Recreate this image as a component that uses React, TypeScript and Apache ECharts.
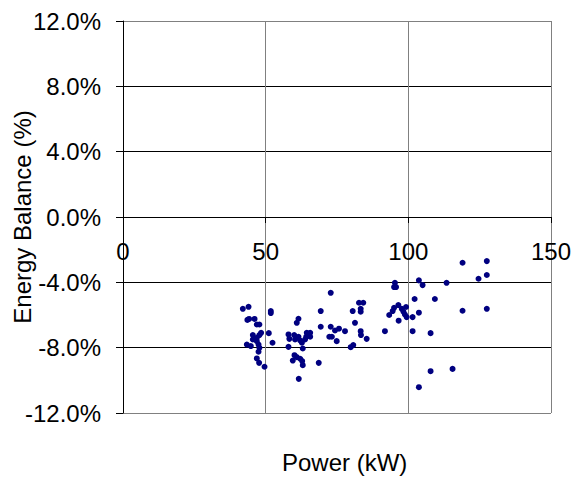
import React, { useEffect, useRef } from "react";
import * as echarts from "echarts";

const powerKW: number[] = [
  42.0, 44.0, 43.6, 44.2, 46.1, 46.9, 47.8, 51.8, 51.8, 45.5,
  45.5, 47.8, 48.4, 51.1, 43.4, 44.8, 46.9, 47.5, 47.8, 47.5,
  52.4, 46.9, 47.7, 49.6, 46.9, 61.5, 60.9, 58.0, 58.3, 60.0,
  60.3, 61.5, 62.1, 62.7, 63.8, 64.4, 65.6, 65.6, 64.2, 58.0,
  63.0, 60.1, 60.9, 62.1, 59.5, 63.0, 62.8, 61.6, 68.6, 69.3,
  69.3, 72.8, 72.8, 72.3, 73.2, 74.9, 74.3, 75.7, 77.8, 79.8,
  80.7, 80.5, 81.3, 82.7, 84.2, 83.3, 83.3, 83.3, 83.4, 85.4,
  91.8, 93.3, 95.3, 95.7, 95.0, 103.7, 105.0, 113.4, 119.0, 127.5,
  124.6, 127.5, 102.2, 109.3, 119.0, 127.5, 96.5, 95.0, 94.5, 97.7,
  98.3, 99.2, 99.4, 98.8, 101.5, 103.7, 96.6, 101.5, 107.8, 107.8,
  115.5, 103.7,
];

const energyBalance: number[] = [
  -5.62, -5.5, -6.3, -6.24, -6.24, -6.58, -6.58, -5.76, -5.88, -7.23,
  -7.5, -7.23, -7.09, -7.11, -7.81, -7.9, -7.6, -7.81, -8.01, -8.25,
  -7.7, -8.66, -8.93, -9.17, -7.4, -6.23, -6.48, -7.19, -7.46, -7.23,
  -7.5, -7.33, -7.56, -7.7, -7.5, -7.09, -7.09, -7.33, -7.33, -7.95,
  -8.05, -8.46, -8.58, -8.68, -8.79, -9.07, -8.82, -9.91, -8.93, -5.76,
  -6.72, -4.64, -6.72, -7.33, -7.33, -7.6, -6.95, -6.84, -6.99, -7.97,
  -7.84, -5.76, -6.48, -5.25, -5.25, -5.62, -5.8, -6.99, -7.23, -7.46,
  -6.99, -6.0, -4.03, -4.29, -4.29, -3.88, -4.17, -4.03, -2.8, -2.7,
  -3.78, -3.55, -5.02, -5.02, -5.74, -5.62, -5.39, -5.56, -5.76, -5.62,
  -5.8, -5.51, -6.13, -5.97, -6.13, -5.86, -6.35, -6.99, -7.11, -9.44,
  -9.3, -10.42,
];

const xMin = 0;
const xMax = 150;
const xStep = 50;
const yMin = -12;
const yMax = 12;
const yStep = 4;

const xTitle = "Power (kW)";
const yTitle = "Energy Balance (%)";

const FONT = "'Liberation Sans', Arial, sans-serif";

const W = 575;
const H = 479;
const GRID_TOP = 21;
const GRID_BOTTOM = 66;

export default function App() {
  const ref = useRef<HTMLDivElement>(null);

  useEffect(() => {
    if (!ref.current) return;
    const chart = echarts.init(ref.current, null, { renderer: "svg" });
    const points = powerKW.map((x, i) => [x, energyBalance[i]]);
    const hLineColors = ["#808080", "#000", "#000", "#000", "#000", "#000", "#808080"];
    const plotH = H - GRID_TOP - GRID_BOTTOM;
    // move the bottom x axis up to where y = 0
    const zeroOffset = -(plotH * (0 - yMin)) / (yMax - yMin);
    chart.setOption({
      animation: false,
      backgroundColor: "#fff",
      textStyle: { fontFamily: FONT },
      grid: {
        left: 123,
        right: 24,
        top: GRID_TOP,
        bottom: GRID_BOTTOM,
        containLabel: false,
        outerBoundsMode: "none",
      },
      xAxis: {
        type: "value",
        min: xMin,
        max: xMax,
        interval: xStep,
        position: "bottom",
        offset: zeroOffset,
        axisLine: { show: true, onZero: false, lineStyle: { color: "#000", width: 1 } },
        axisTick: { show: true, length: 6, lineStyle: { color: "#000" } },
        axisLabel: { color: "#000", fontSize: 24, fontFamily: FONT, margin: 22 },
        splitLine: { show: true, lineStyle: { color: "#808080", width: 1 } },
      },
      yAxis: {
        type: "value",
        min: yMin,
        max: yMax,
        interval: yStep,
        name: yTitle,
        nameLocation: "middle",
        nameGap: 89,
        nameRotate: 90,
        nameMoveOverlap: false,
        nameTextStyle: { color: "#000", fontSize: 24, fontFamily: FONT },
        axisLine: { show: true, onZero: false, lineStyle: { color: "#000", width: 1 } },
        axisTick: { show: true, length: 7, lineStyle: { color: "#000" } },
        axisLabel: {
          color: "#000",
          fontSize: 24,
          fontFamily: FONT,
          margin: 22,
          formatter: (v: number) => v.toFixed(1) + "%",
        },
        splitLine: { show: true, lineStyle: { color: hLineColors, width: 1 } },
      },
      graphic: [
        {
          type: "text",
          left: 282,
          top: 450,
          style: { text: xTitle, fill: "#000", fontSize: 24, fontFamily: FONT },
        },
      ],
      series: [
        {
          type: "scatter",
          data: points,
          symbol: "circle",
          symbolSize: 6,
          itemStyle: { color: "#000080", opacity: 1 },
        },
      ],
    });
    return () => chart.dispose();
  }, []);

  return (
    <div
      ref={ref}
      style={{ position: "fixed", left: 0, top: 0, width: W, height: H, background: "#fff" }}
    />
  );
}
